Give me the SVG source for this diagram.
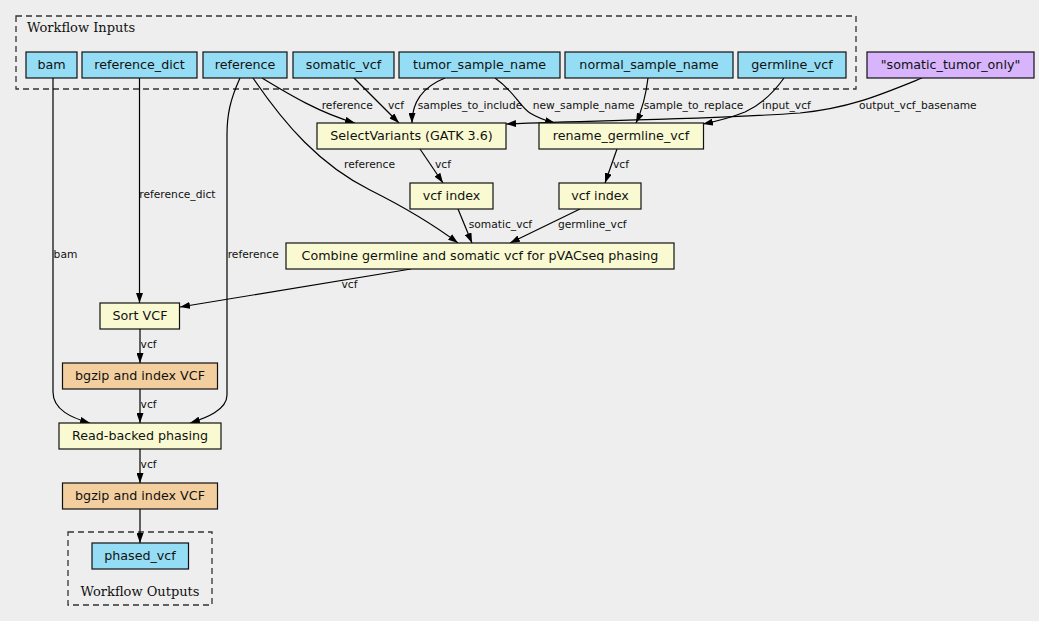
<svg xmlns="http://www.w3.org/2000/svg" width="1039" height="621" viewBox="0 0 1039 621">
<defs>
<marker id="ah" viewBox="0 0 10 7" refX="10" refY="3.5" markerWidth="10" markerHeight="7" orient="auto" markerUnits="userSpaceOnUse"><path d="M0,0 L10,3.5 L0,7 z" fill="#000"/></marker>
<style>
.cl{fill:none;stroke:#333;stroke-width:1.3;stroke-dasharray:6,4}
.clt{font-family:"DejaVu Serif",serif;font-size:13px;fill:#111}
.inp rect{fill:#94ddf4;stroke:#111;stroke-width:1.2}
.proc rect{fill:#fafad2;stroke:#111;stroke-width:1.2}
.bgz rect{fill:#f3cfa0;stroke:#111;stroke-width:1.2}
.cst rect{fill:#d7b4fb;stroke:#111;stroke-width:1.2}
.n text{font-family:"DejaVu Sans",sans-serif;font-size:12.7px;text-anchor:middle;fill:#111}
#edges path{fill:none;stroke:#000;stroke-width:1.2;marker-end:url(#ah)}
#edges text{font-family:"DejaVu Sans",sans-serif;font-size:10.7px;fill:#111}
</style>
</defs>
<rect width="1039" height="621" fill="#eeeeee"/>
<g id="cluster_inputs">
<rect class="cl" x="16" y="16" width="840" height="73"/>
<text class="clt" x="27" y="32">Workflow Inputs</text>
</g>
<g id="cluster_outputs">
<rect class="cl" x="68" y="532" width="144" height="73"/>
<text class="clt" x="140" y="596" text-anchor="middle">Workflow Outputs</text>
</g>
<g id="edges">
<path d="M53,78 L53,392 C53,410 72,418 90,423"/>
<text x="53.6" y="258">bam</text>
<path d="M139.5,78 L139.5,303"/>
<text x="139.3" y="198">reference_dict</text>
<path d="M240,78 C230,100 227,115 227,135 L227,395 C227,410 206,418 190,423"/>
<text x="227.7" y="258">reference</text>
<path d="M262,78 C290,95 320,113 355,123"/>
<text x="321.7" y="109">reference</text>
<path d="M253,78 C285,125 320,165 370,190 C410,210 438,228 458,243"/>
<text x="344" y="168">reference</text>
<path d="M354,78 L399,123"/>
<text x="388" y="109">vcf</text>
<path d="M445,78 C425,86 412,100 412,123"/>
<text x="417.7" y="109">samples_to_include</text>
<path d="M495,78 C515,92 520,107 530,113 C538,118 547,121 555,123"/>
<text x="532.7" y="109">new_sample_name</text>
<path d="M648,78 C646,95 642,110 636,123"/>
<text x="643.7" y="109">sample_to_replace</text>
<path d="M784,78 C772,95 760,105 745,112 C730,118 718,121 703,124"/>
<text x="762" y="109">input_vcf</text>
<path d="M922,78 C880,95 850,108 800,113 C700,120 600,120 506,124"/>
<text x="859" y="109">output_vcf_basename</text>
<path d="M420,149 L443,183"/>
<text x="435" y="168">vcf</text>
<path d="M617,149 L605,183"/>
<text x="613" y="168">vcf</text>
<path d="M458,209 L472,243"/>
<text x="468.7" y="228">somatic_vcf</text>
<path d="M580,209 L510,243"/>
<text x="558" y="228">germline_vcf</text>
<path d="M411,269 L180,307"/>
<text x="341.5" y="288">vcf</text>
<path d="M140,329 L140,363"/>
<text x="140.6" y="348">vcf</text>
<path d="M140,389 L140,423"/>
<text x="140.6" y="408">vcf</text>
<path d="M140,449 L140,483"/>
<text x="140.6" y="468">vcf</text>
<path d="M140,509 L140,543"/>
</g>
<g id="bam" class="n inp"><rect x="26" y="52" width="51" height="26"/><text x="51.5" y="69">bam</text></g>
<g id="reference_dict" class="n inp"><rect x="82" y="52" width="115" height="26"/><text x="139.5" y="69">reference_dict</text></g>
<g id="reference" class="n inp"><rect x="203" y="52" width="84" height="26"/><text x="245" y="69">reference</text></g>
<g id="somatic_vcf" class="n inp"><rect x="293" y="52" width="101" height="26"/><text x="343.5" y="69">somatic_vcf</text></g>
<g id="tumor_sample_name" class="n inp"><rect x="399" y="52" width="161" height="26"/><text x="479.5" y="69">tumor_sample_name</text></g>
<g id="normal_sample_name" class="n inp"><rect x="565" y="52" width="168" height="26"/><text x="649" y="69">normal_sample_name</text></g>
<g id="germline_vcf" class="n inp"><rect x="738" y="52" width="108" height="26"/><text x="792" y="69">germline_vcf</text></g>
<g id="somatic_tumor_only" class="n cst"><rect x="867" y="52" width="167" height="26"/><text x="950.5" y="69">"somatic_tumor_only"</text></g>
<g id="select_variants" class="n proc"><rect x="317" y="123" width="189" height="26"/><text x="411.5" y="140.3">SelectVariants (GATK 3.6)</text></g>
<g id="rename_germline_vcf" class="n proc"><rect x="539" y="123" width="164.5" height="26"/><text x="621" y="140.3">rename_germline_vcf</text></g>
<g id="vcf_index_somatic" class="n proc"><rect x="410" y="183" width="83" height="26"/><text x="451.5" y="200.3">vcf index</text></g>
<g id="vcf_index_germline" class="n proc"><rect x="559" y="183" width="82" height="26"/><text x="600" y="200.3">vcf index</text></g>
<g id="combine" class="n proc"><rect x="286" y="243" width="388" height="26"/><text x="480" y="260.3">Combine germline and somatic vcf for pVACseq phasing</text></g>
<g id="sort_vcf" class="n proc"><rect x="100" y="303" width="79.5" height="26"/><text x="140" y="320.3">Sort VCF</text></g>
<g id="bgzip1" class="n bgz"><rect x="62.5" y="363" width="155" height="26"/><text x="140" y="380.3">bgzip and index VCF</text></g>
<g id="read_backed_phasing" class="n proc"><rect x="59" y="423" width="162" height="26"/><text x="140" y="440.3">Read-backed phasing</text></g>
<g id="bgzip2" class="n bgz"><rect x="62.5" y="483" width="155" height="26"/><text x="140" y="500.3">bgzip and index VCF</text></g>
<g id="phased_vcf" class="n inp"><rect x="92" y="543" width="96.5" height="26"/><text x="140" y="560.3">phased_vcf</text></g>
</svg>
